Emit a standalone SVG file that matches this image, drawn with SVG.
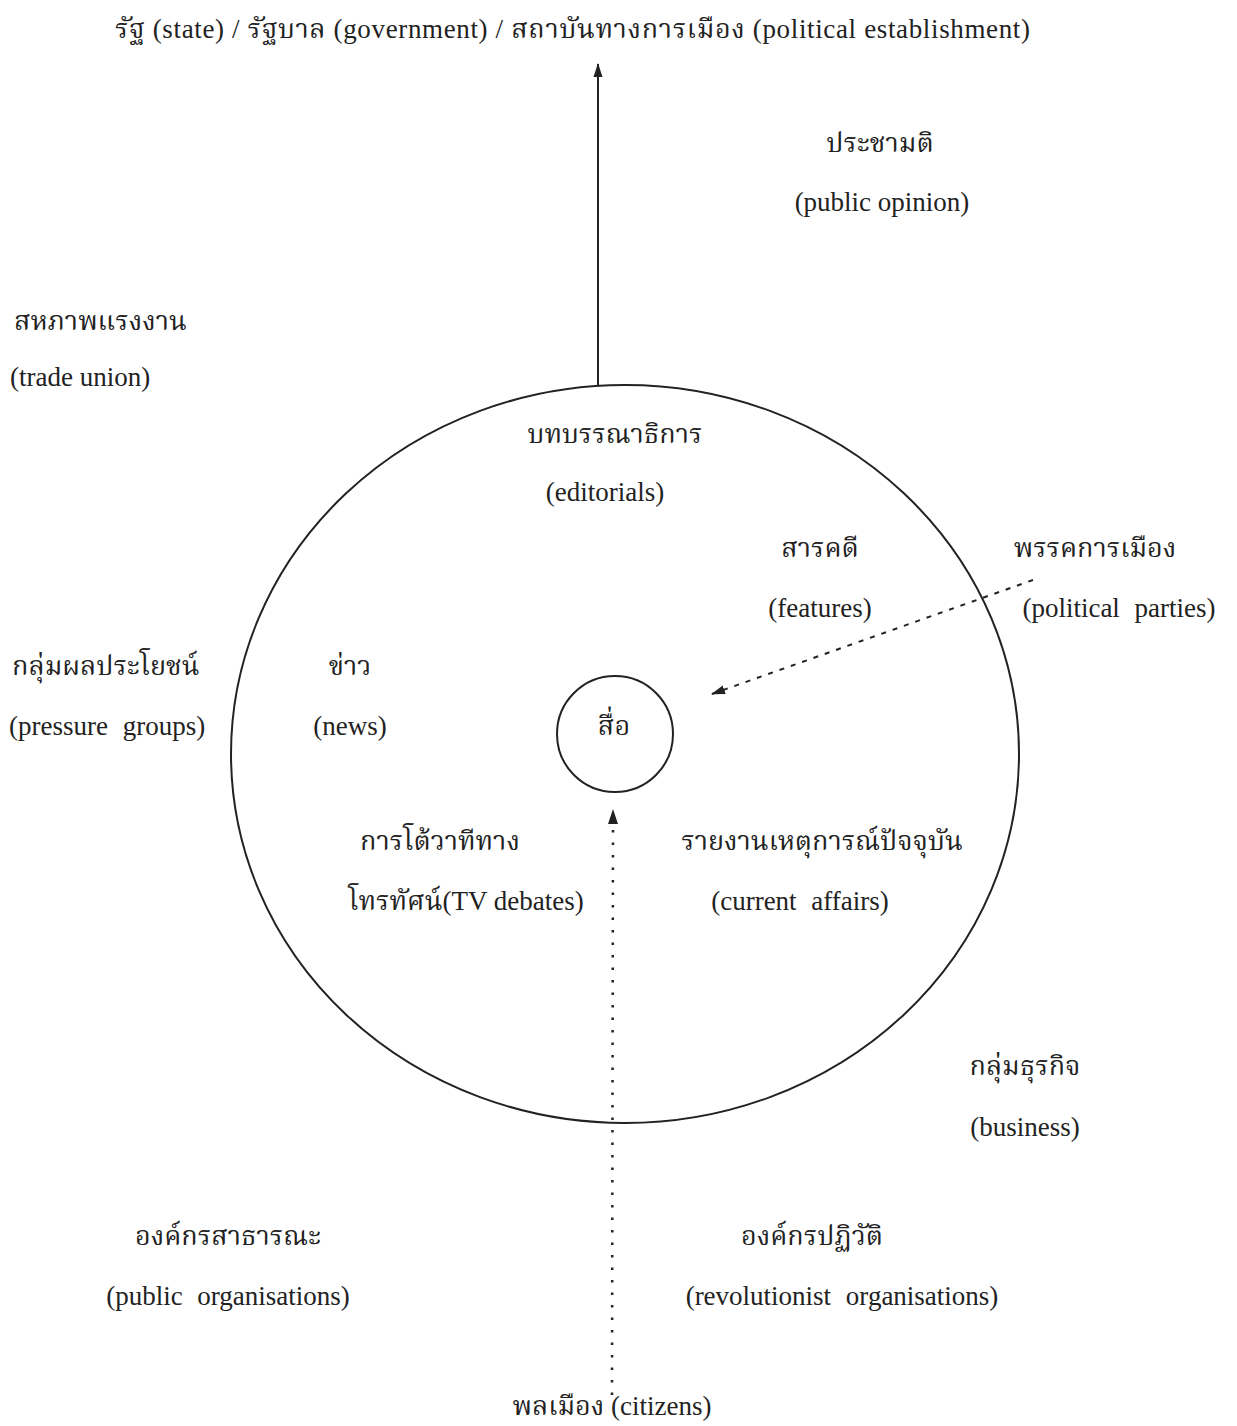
<svg xmlns="http://www.w3.org/2000/svg" width="1237" height="1426" viewBox="0 0 1237 1426">
<style>
text{font-family:"Liberation Serif","Noto Serif Thai","Noto Sans Thai","Noto Sans","DejaVu Sans",serif;font-size:27px;fill:#222;}
.t{font-size:27px;}
.m{text-anchor:middle;}
.w{word-spacing:8px;}
.shape{fill:none;stroke:#222;stroke-width:2;}
.solid{stroke:#222;stroke-width:2;fill:none;}
.dash{stroke:#222;stroke-width:2;fill:none;stroke-dasharray:5 7;}
.dot{stroke:#222;stroke-width:2.5;fill:none;stroke-dasharray:2.5 10;}
</style>
<defs>
<marker id="ah" markerWidth="14" markerHeight="10" refX="13" refY="5" orient="auto" markerUnits="userSpaceOnUse">
<path d="M0,0.5 L14,5 L0,9.5 Z" fill="#222"/>
</marker>
</defs>
<rect width="1237" height="1426" fill="#fff"/>
<g id="title"><text class="t" x="115" y="38" textLength="915" lengthAdjust="spacing">รัฐ (state) / รัฐบาล (government) / สถาบันทางการเมือง (political establishment)</text></g>
<g id="outer-circle"><ellipse class="shape" cx="625" cy="754" rx="394" ry="369"/></g>
<g id="media"><circle class="shape" cx="615" cy="734" r="58"/><text class="m" x="614" y="735">สื่อ</text></g>
<g id="connectors">
<line class="solid" x1="598" y1="385" x2="598" y2="64" marker-end="url(#ah)"/>
<line class="dot" x1="612" y1="1395" x2="613" y2="824"/>
<path d="M613,809 L608,824 L618,824 Z" fill="#222"/>
<line class="dash" x1="1033" y1="580" x2="712" y2="694" marker-end="url(#ah)"/>
</g>
<g id="public-opinion"><text class="m" x="880" y="152">ประชามติ</text><text class="m" x="882" y="211">(public opinion)</text></g>
<g id="trade-union"><text x="14" y="330">สหภาพแรงงาน</text><text x="10" y="386">(trade union)</text></g>
<g id="editorials"><text class="m" x="615" y="443">บทบรรณาธิการ</text><text class="m" x="605" y="501">(editorials)</text></g>
<g id="features"><text class="m" x="820" y="557">สารคดี</text><text class="m" x="820" y="617">(features)</text></g>
<g id="political-parties"><text class="m" x="1095" y="557">พรรคการเมือง</text><text class="m w" x="1119" y="617">(political parties)</text></g>
<g id="pressure-groups"><text x="12" y="675">กลุ่มผลประโยชน์</text><text class="w" x="9" y="735">(pressure groups)</text></g>
<g id="news"><text class="m" x="350" y="675">ข่าว</text><text class="m" x="350" y="735">(news)</text></g>
<g id="tv-debates"><text class="m" x="440" y="850">การโต้วาทีทาง</text><text class="m" x="466" y="910">โทรทัศน์(TV debates)</text></g>
<g id="current-affairs"><text class="m" x="822" y="850">รายงานเหตุการณ์ปัจจุบัน</text><text class="m w" x="800" y="910">(current affairs)</text></g>
<g id="business"><text class="m" x="1025" y="1075">กลุ่มธุรกิจ</text><text class="m" x="1025" y="1136">(business)</text></g>
<g id="public-organisations"><text class="m" x="228" y="1245">องค์กรสาธารณะ</text><text class="m w" x="228" y="1305">(public organisations)</text></g>
<g id="revolutionist-organisations"><text class="m" x="812" y="1245">องค์กรปฏิวัติ</text><text class="m w" x="842" y="1305">(revolutionist organisations)</text></g>
<g id="citizens"><text class="m" x="612" y="1415">พลเมือง (citizens)</text></g>
</svg>
